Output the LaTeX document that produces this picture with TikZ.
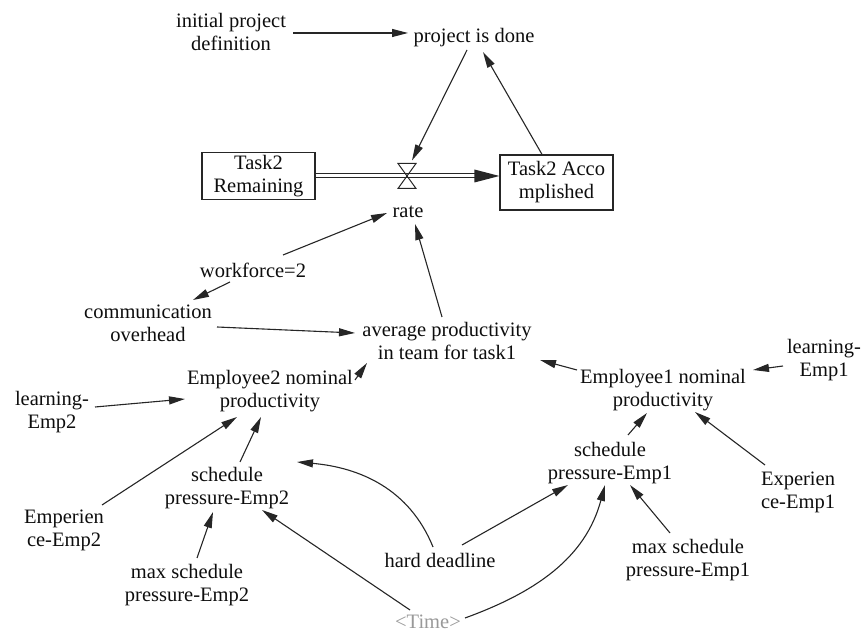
\documentclass[tikz,border=0pt]{standalone}
\usepackage{fontspec}
\setmainfont{Liberation Serif}
\usetikzlibrary{arrows.meta,calc}
\begin{document}
\begin{tikzpicture}[x=1pt,y=1pt,
  lbl/.style={align=center, inner sep=0pt, font=\fontsize{20.5}{23}\selectfont, text=black!95},
  stock/.style={draw=black!85, line width=1.2pt, align=center, inner sep=0pt,
    font=\fontsize{20.5}{23}\selectfont, text=black!95, minimum width=113pt},
  link/.style={draw=black!85, line width=1.1pt, -{Triangle[length=16pt,width=8pt]}},
  pipe/.style={draw=black!85, double=white, double distance=3pt, line width=1pt},
  shadow/.style={lbl, text=black!40}
]
\useasboundingbox (0,0) rectangle (866,636);

% stocks, flow and auxiliaries
\node[lbl] (init) at (231,604) {initial project\\definition};
\node[lbl] (done) at (474,598) {project is done};
\node[stock, minimum height=47pt] (rem) at (258.5,460) {Task2\\Remaining};
\node[stock, minimum height=55pt] (acc) at (556.5,453.5) {Task2 Acco\\mplished};
\coordinate (valve) at (407,460);
\node[lbl] (rate) at (408,424) {rate};
\node[lbl] (wf) at (253,366) {workforce=2};
\node[lbl] (comm) at (148,313) {communication\\overhead};
\node[lbl] (avg) at (447,295) {average productivity\\in team for task1};
\node[lbl] (e2nom) at (270,245) {Employee2 nominal\\productivity};
\node[lbl] (learn2) at (52,224) {learning-\\Emp2};
\node[lbl] (e1nom) at (663,246) {Employee1 nominal\\productivity};
\node[lbl] (learn1) at (824,276) {learning-\\Emp1};
\node[lbl] (sp2) at (227,148) {schedule\\pressure-Emp2};
\node[lbl] (sp1) at (610,173) {schedule\\pressure-Emp1};
\node[lbl] (exp1) at (798,144) {Experien\\ce-Emp1};
\node[lbl] (emp2) at (64,106) {Emperien\\ce-Emp2};
\node[lbl] (hd) at (440,76) {hard deadline};
\node[lbl] (max1) at (688,76) {max schedule\\pressure-Emp1};
\node[lbl] (max2) at (187,51) {max schedule\\pressure-Emp2};
\node[shadow] (time) at (428,14) {<Time>};

% material flow with its valve
\draw[pipe, shorten >=22pt] (rem.east) -- (rem.east -| acc.west);
\fill[black!85] (rem.east -| acc.west) -- ++(-25,6.5) -- ++(0,-13) -- cycle;
\draw[line width=1pt, black!85, line join=miter]
  ($(valve)+(-9,12.5)$) -- ++(18,0) -- ++(-18,-25) -- ++(18,0) -- cycle;

% information links
\draw[link] ($(init)+(62,-1)$) -- ($(done)+(-66,5)$);
\draw[link] ($(done)+(-7,-12)$) -- ($(valve)+(5,15.5)$);
\draw[link] ($(acc.north)+(-14.5,0)$) -- ($(done)+(9,-14)$);
\draw[link] ($(wf)+(30,15)$) -- ($(rate)+(-21,-1)$);
\draw[link] ($(wf)+(-23,-12)$) -- ($(comm)+(45,23)$);
\draw[link] ($(comm)+(69,-4)$) -- ($(avg)+(-92,8)$);
\draw[link] ($(avg)+(-5,24)$) -- ($(rate)+(7,-12)$);
\draw[link] ($(e2nom)+(85,11)$) -- ($(avg)+(-80,-22)$);
\draw[link] ($(e1nom)+(-86,20)$) -- ($(avg)+(93,-19)$);
\draw[link] ($(learn1)+(-41,-6)$) -- ($(e1nom)+(90,20)$);
\draw[link] ($(learn2)+(43,5)$) -- ($(e2nom)+(-85,-8)$);
\draw[link] ($(emp2)+(38,25)$) -- ($(e2nom)+(-33,-26)$);
\draw[link] ($(sp2)+(13,26)$) -- ($(e2nom)+(-9,-26)$);
\draw[link] ($(max2)+(10,27)$) -- ($(sp2)+(-14,-24)$);
\draw[link] ($(hd)+(-7,13)$) to[out=112,in=-5] ($(sp2)+(70,26)$);
\draw[link] ($(hd)+(22,15)$) -- ($(sp1)+(-42,-22)$);
\draw[link] ($(time)+(-18,12)$) -- ($(sp2)+(35,-22)$);
\draw[link] ($(time)+(37,4)$) to[out=20,in=-105] ($(sp1)+(-5,-22)$);
\draw[link] ($(sp1)+(18,28)$) -- ($(e1nom)+(-16,-23)$);
\draw[link] ($(max1)+(-18,27)$) -- ($(sp1)+(20,-22)$);
\draw[link] ($(exp1)+(-33,27)$) -- ($(e1nom)+(32,-22)$);
\end{tikzpicture}
\end{document}
